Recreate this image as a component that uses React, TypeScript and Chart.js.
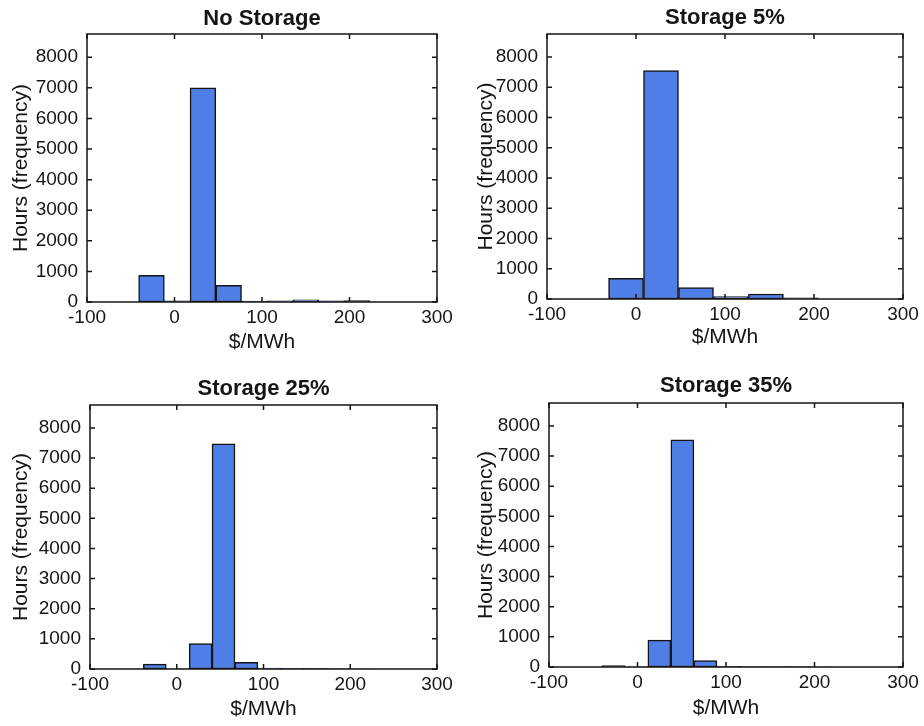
import React, { useEffect, useRef } from "react";
import { Chart, registerables } from "chart.js";

Chart.register(...registerables);

// ---- data ----
const panelTitles = ["No Storage", "Storage 5%", "Storage 25%", "Storage 35%"];

// bin centres ($/MWh) and counts (hours)
const noStorageBins = [-26.3, 3.1, 32.5, 61.9, 91.3, 120.7, 150.1, 179.5, 208.9];
const noStorageHours = [870, 40, 7000, 545, 30, 40, 70, 40, 50];

const storage5Bins = [-11.2, 28.1, 67.4, 106.7, 146.0, 185.3];
const storage5Hours = [685, 7550, 375, 80, 165, 40];

const storage25Bins = [-25.3, 1.1, 27.5, 53.9, 80.3, 106.7, 133.1, 159.5, 185.9, 212.3];
const storage25Hours = [160, 5, 840, 7470, 220, 30, 25, 20, 10, 5];

const storage35Bins = [-27.3, -1.3, 24.7, 50.7, 76.7, 102.7, 128.7, 154.7, 180.7, 206.7];
const storage35Hours = [50, 5, 890, 7540, 210, 20, 15, 10, 10, 5];

const xTickValues = [-100, 0, 100, 200, 300];
const yTickValues = [0, 1000, 2000, 3000, 4000, 5000, 6000, 7000, 8000];
const xMin = -100;
const xMax = 300;
const yMax = 8760;

const xAxisLabel = "$/MWh";
const yAxisLabel = "Hours (frequency)";

// ---- layout (positions / styles only) ----
const FONT = "'Liberation Sans', Arial, Helvetica, sans-serif";
const BAR_FILL = "#4F7FE6";
const INK = "#151515";

type Layout = {
  left: number;
  top: number;
  yAxisW: number;
  rightPad: number;
  plotTop: number;
  titleY: number;
  xAxisH: number;
  yTitlePad: number;
  xTitlePad: number;
};

const layouts: Layout[] = [
  { left: 0, top: 0, yAxisW: 87, rightPad: 25, plotTop: 34, titleY: 18.5, xAxisH: 61, yTitlePad: 8.4, xTitlePad: 8.4 },
  { left: 462, top: 0, yAxisW: 85, rightPad: 21, plotTop: 34, titleY: 18, xAxisH: 64, yTitlePad: 11.6, xTitlePad: 13.4 },
  { left: 0, top: 363, yAxisW: 90, rightPad: 25, plotTop: 42, titleY: 25.5, xAxisH: 57, yTitlePad: 8.4, xTitlePad: 4.4 },
  { left: 462, top: 363, yAxisW: 87, rightPad: 21, plotTop: 40, titleY: 23, xAxisH: 59, yTitlePad: 11.6, xTitlePad: 5.4 },
];

const panelData = [
  { bins: noStorageBins, hours: noStorageHours },
  { bins: storage5Bins, hours: storage5Hours },
  { bins: storage25Bins, hours: storage25Hours },
  { bins: storage35Bins, hours: storage35Hours },
];

const CW = 462;
const CH = 363;

// MATLAB-style box with inward ticks on all four sides, and a title centred on the plot area
const boxPlugin = {
  id: "matlabBox",
  afterDatasetsDraw(chart: any, _args: any, opts: any) {
    const { ctx, chartArea: a, scales } = chart;
    const xs = scales.x;
    const ys = scales.y;
    ctx.save();
    ctx.strokeStyle = INK;
    ctx.lineWidth = 1.5;
    ctx.strokeRect(a.left, a.top, a.right - a.left, a.bottom - a.top);
    ctx.beginPath();
    const len = 5;
    xTickValues.forEach((v) => {
      const px = xs.getPixelForValue(v);
      ctx.moveTo(px, a.bottom);
      ctx.lineTo(px, a.bottom - len);
      ctx.moveTo(px, a.top);
      ctx.lineTo(px, a.top + len);
    });
    yTickValues.forEach((v) => {
      const py = ys.getPixelForValue(v);
      ctx.moveTo(a.left, py);
      ctx.lineTo(a.left + len, py);
      ctx.moveTo(a.right, py);
      ctx.lineTo(a.right - len, py);
    });
    ctx.stroke();

    // title
    ctx.fillStyle = INK;
    ctx.font = `bold 22px ${FONT}`;
    ctx.textAlign = "center";
    ctx.textBaseline = "middle";
    ctx.fillText(opts.text, (a.left + a.right) / 2, opts.y);
    ctx.restore();
  },
};

function Panel({ index }: { index: number }) {
  const ref = useRef<HTMLCanvasElement | null>(null);
  const L = layouts[index];
  useEffect(() => {
    if (!ref.current) return;
    const d = panelData[index];
    const chart = new Chart(ref.current, {
      type: "bar",
      data: {
        datasets: [
          {
            data: d.bins.map((b, i) => ({ x: b, y: d.hours[i] })),
            backgroundColor: BAR_FILL,
            borderColor: INK,
            borderWidth: 1.5,
            borderSkipped: false,
            barPercentage: 1,
            categoryPercentage: 1,
          } as any,
        ],
      },
      options: {
        responsive: false,
        animation: false,
        events: [],
        layout: { padding: { left: 0, right: L.rightPad, top: L.plotTop, bottom: 0 } },
        plugins: {
          legend: { display: false },
          tooltip: { enabled: false },
          title: { display: false },
          matlabBox: { text: panelTitles[index], y: L.titleY },
        },
        scales: {
          x: {
            type: "linear",
            min: xMin,
            max: xMax,
            offset: false,
            grid: { display: false, drawTicks: false },
            border: { display: false },
            afterBuildTicks(scale: any) {
              scale.ticks = xTickValues.map((v) => ({ value: v }));
            },
            ticks: {
              padding: 4,
              color: INK,
              font: { family: FONT, size: 19 },
              maxRotation: 0,
              autoSkip: false,
              callback: (v: any) => String(v),
            },
            title: {
              display: true,
              text: xAxisLabel,
              color: INK,
              font: { family: FONT, size: 21, lineHeight: 1.2 },
              padding: { top: 0, bottom: L.xTitlePad },
            },
            afterFit(scale: any) {
              scale.height = L.xAxisH;
            },
          },
          y: {
            type: "linear",
            min: 0,
            max: yMax,
            grid: { display: false, drawTicks: false },
            border: { display: false },
            afterBuildTicks(scale: any) {
              scale.ticks = yTickValues.map((v) => ({ value: v }));
            },
            ticks: {
              padding: 9,
              color: INK,
              font: { family: FONT, size: 19 },
              autoSkip: false,
              callback: (v: any) => String(v),
            },
            title: {
              display: true,
              text: yAxisLabel,
              color: INK,
              font: { family: FONT, size: 21, lineHeight: 1.2 },
              padding: { top: L.yTitlePad, bottom: 0 },
            },
            afterFit(scale: any) {
              scale.width = L.yAxisW;
            },
          },
        },
      } as any,
      plugins: [boxPlugin],
    });
    return () => chart.destroy();
  }, [index]);
  return (
    <canvas
      ref={ref}
      width={CW}
      height={CH}
      style={{ position: "absolute", left: L.left, top: L.top, width: CW, height: CH }}
    />
  );
}

export default function App() {
  return (
    <div
      style={{
        position: "absolute",
        left: 0,
        top: 0,
        width: 924,
        height: 726,
        background: "#ffffff",
        overflow: "hidden",
      }}
    >
      {[0, 1, 2, 3].map((i) => (
        <Panel key={i} index={i} />
      ))}
    </div>
  );
}
